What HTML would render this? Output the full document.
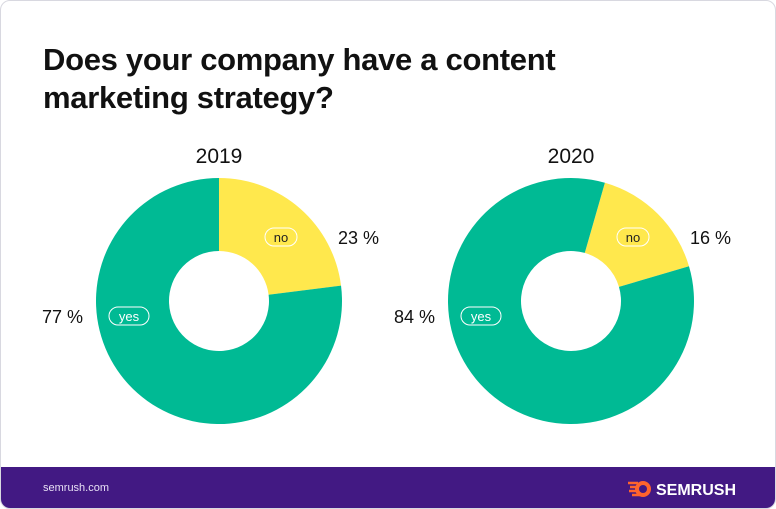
<!DOCTYPE html>
<html><head><meta charset="utf-8"><style>
body{margin:0;width:776px;height:509px;background:#fff;font-family:"Liberation Sans",sans-serif;overflow:hidden;position:relative}
#card{position:absolute;left:0;top:0;width:774px;height:507px;border:1px solid #d8d8e0;border-radius:10px;overflow:hidden}
h1{position:absolute;left:42px;top:40px;margin:0;font-size:31px;line-height:38px;font-weight:bold;color:#111;letter-spacing:-0.3px}
#footer{position:absolute;left:0;top:466px;width:776px;height:43px;background:#421983}
</style></head><body>
<div id="card">
<h1>Does your company have a content<br>marketing strategy?</h1>
<svg id="chart" width="776" height="466" style="position:absolute;left:0;top:0"></svg>
<div id="footer">
<span style="position:absolute;left:42px;top:15px;font-size:11px;color:#e8e0f5">semrush.com</span>
<svg style="position:absolute;left:625px;top:10px" width="115" height="24">
<circle cx="17" cy="12" r="8" fill="#ff642d"/><circle cx="17" cy="12" r="4" fill="#421983"/>
<path d="M2 6h10M4 10h8M3 14h8M6 18h8" stroke="#ff642d" stroke-width="2.5"/>
<text x="30" y="18" font-size="16" font-weight="bold" fill="#fff" font-family="Liberation Sans,sans-serif">SEMRUSH</text></svg>
</div>
</div>
<script>
const years=["2019","2020"];
const noValues=[23,16];
const yesValues=[77,84];
const startDeg=[0,16];
const ns="http://www.w3.org/2000/svg";
const svg=document.getElementById('chart');
const centersX=[218,570],cy=300,R=123,r=50;
function pt(a,rad,cx){return [cx+rad*Math.sin(a),cy-rad*Math.cos(a)];}
function arc(cx,a0,a1){const l=(a1-a0)>Math.PI?1:0;const p0=pt(a0,R,cx),p1=pt(a1,R,cx),q1=pt(a1,r,cx),q0=pt(a0,r,cx);
return `M${p0}A${R},${R} 0 ${l} 1 ${p1}L${q1}A${r},${r} 0 ${l} 0 ${q0}Z`;}
function mk(tag,attrs,txt){const e=document.createElementNS(ns,tag);for(const k in attrs)e.setAttribute(k,attrs[k]);if(txt)e.textContent=txt;svg.appendChild(e);return e;}
years.forEach((y,i)=>{
 const cx=centersX[i];const total=noValues[i]+yesValues[i];
 const s=startDeg[i]*Math.PI/180;
 const aNo=noValues[i]/total*2*Math.PI;
 const t=mk('text',{x:cx,y:162,'text-anchor':'middle','font-size':21,fill:'#111'},y);
 
 
 const pn=mk('path',{d:arc(cx,s,s+aNo),fill:'#ffe84d'});
 
 
 const py=mk('path',{d:arc(cx,s+aNo,s+2*Math.PI-0.0001),fill:'#00ba94'});
 
 
 const nx=cx+62,ny=236;
 const rn=mk('rect',{x:nx-16,y:ny-9,width:32,height:18,rx:9,fill:'none',stroke:'#fff','stroke-width':1});
 
 
 const tn=mk('text',{x:nx,y:ny+5,'text-anchor':'middle','font-size':13,fill:'#222'},'no');
 
 
 const vn=mk('text',{x:cx+119,y:ny+7,'font-size':18,fill:'#111'},noValues[i]+' %');
 
 
 const yx=cx-90,yy=315;
 const ry=mk('rect',{x:yx-20,y:yy-9,width:40,height:18,rx:9,fill:'none',stroke:'#fff','stroke-width':1});
 
 
 const ty=mk('text',{x:yx,y:yy+5,'text-anchor':'middle','font-size':13,fill:'#fff'},'yes');
 
 
 const vy=mk('text',{x:cx-136,y:yy+7,'text-anchor':'end','font-size':18,fill:'#111'},yesValues[i]+' %');
 
 
});
</script>
</body></html>
